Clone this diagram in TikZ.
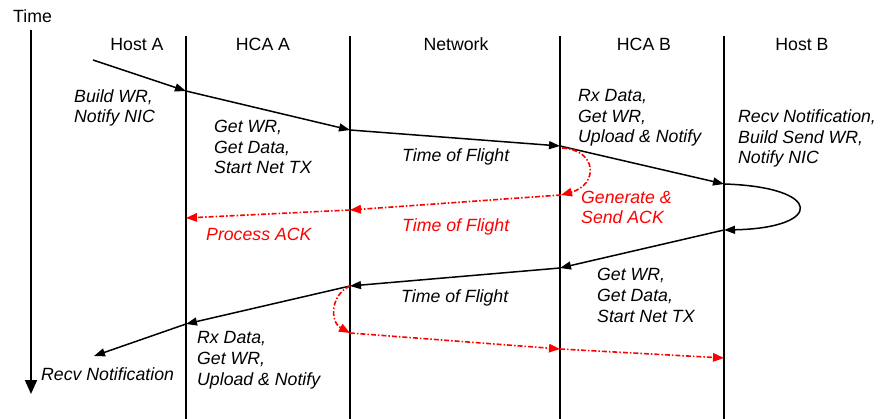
\documentclass[tikz,border=0pt]{standalone}
\usepackage{fontspec}
\setmainfont{Liberation Sans}
\usetikzlibrary{arrows.meta}
\begin{document}
\begin{tikzpicture}[x=1pt,y=-1pt,
  lifeline/.style={line width=1.8pt},
  msg/.style={line width=1.5pt,-{Triangle[length=11pt,width=8pt]}},
  ack/.style={red,line width=1.6pt,dash pattern=on 5pt off 2pt on 1.5pt off 2pt,
              -{Triangle[length=11pt,width=8.5pt]}},
  head/.style={font=\fontsize{17.7}{20.7}\selectfont,anchor=base,inner sep=0pt},
  % multi-line notes are placed by the baseline of their last line
  note/.style={font=\fontsize{17.7}{20.7}\selectfont\itshape,anchor=base west,
               align=left,inner sep=0pt},
  rednote/.style={note,text=red}]
\useasboundingbox (0,0) rectangle (882,419);

% column headers
\node[head,anchor=base west] (time) at (13,22.7) {Time};
\node[head] (hostA) at (137,51) {Host A};
\node[head] (hcaA)  at (263,51) {HCA A};
\node[head] (net)   at (456,51) {Network};
\node[head] (hcaB)  at (644,51) {HCA B};
\node[head] (hostB) at (802,51) {Host B};

% time axis and lifelines
\coordinate (t0) at (31,30);
\coordinate (t1) at (31,394);
\draw[line width=1.8pt,-{Triangle[length=14pt,width=12pt]}] (t0) -- (t1);
\foreach \n/\x in {l1/186,l2/350,l3/560,l4/724}{
  \coordinate (\n top) at (\x,36);
  \coordinate (\n bot) at (\x,419);
  \draw[lifeline] (\n top) -- (\n bot);
}

% message events
\coordinate (a0)  at (93,60);
\coordinate (A1)  at (186,91);
\coordinate (HA1) at (350,130);
\coordinate (N1)  at (560,146);
\coordinate (B1)  at (724,184);
\coordinate (B2)  at (724,230);
\coordinate (HB2) at (560,268);
\coordinate (N2)  at (350,286);
\coordinate (HA2) at (186,324);
\coordinate (a3)  at (94,356);

% acknowledgement events
\coordinate (r0) at (562,148);
\coordinate (r1) at (561,195);
\coordinate (r2) at (350,210);
\coordinate (r3) at (186,218);
\coordinate (r4) at (350,333);
\coordinate (r5) at (560,349);
\coordinate (r6) at (724,358);

% request and reply path
\draw[msg] (a0) -- (A1);
\draw[msg] (A1) -- (HA1);
\draw[msg] (HA1) -- (N1);
\draw[msg] (N1) -- (B1);
\draw[msg] (B1) .. controls +(100,3) and +(100,-2) .. (B2);
\draw[msg] (B2) -- (HB2);
\draw[msg] (HB2) -- (N2);
\draw[msg] (N2) -- (HA2);
\draw[msg] (HA2) -- (a3);

% acknowledgements
\draw[ack] (r0) .. controls (598,150) and (598,185) .. (r1);
\draw[ack] (r1) -- (r2);
\draw[ack] (r2) -- (r3);
\draw[ack] (N2) .. controls (330,295) and (330,322) .. (r4);
\draw[ack] (r4) -- (r5);
\draw[ack] (r5) -- (r6);

% step descriptions
\node[note] (n1) at (74,123) {Build WR,\\Notify NIC};
\node[note] (n2) at (214,174) {Get WR,\\Get Data,\\Start Net TX};
\node[note] (n3) at (402,162) {Time of Flight};
\node[note] (n4) at (578,143) {Rx Data,\\Get WR,\\Upload \& Notify};
\node[note] (n5) at (738,164) {Recv Notification,\\Build Send WR,\\Notify NIC};
\node[rednote] (n6) at (581,224) {Generate \&\\Send ACK};
\node[rednote] (n7) at (402,232) {Time of Flight};
\node[rednote] (n8) at (206,241) {Process ACK};
\node[note] (n9) at (597,322) {Get WR,\\Get Data,\\Start Net TX};
\node[note] (n10) at (401,302) {Time of Flight};
\node[note] (n11) at (197,385) {Rx Data,\\Get WR,\\Upload \& Notify};
\node[note] (n12) at (41,380) {Recv Notification};
\end{tikzpicture}
\end{document}
